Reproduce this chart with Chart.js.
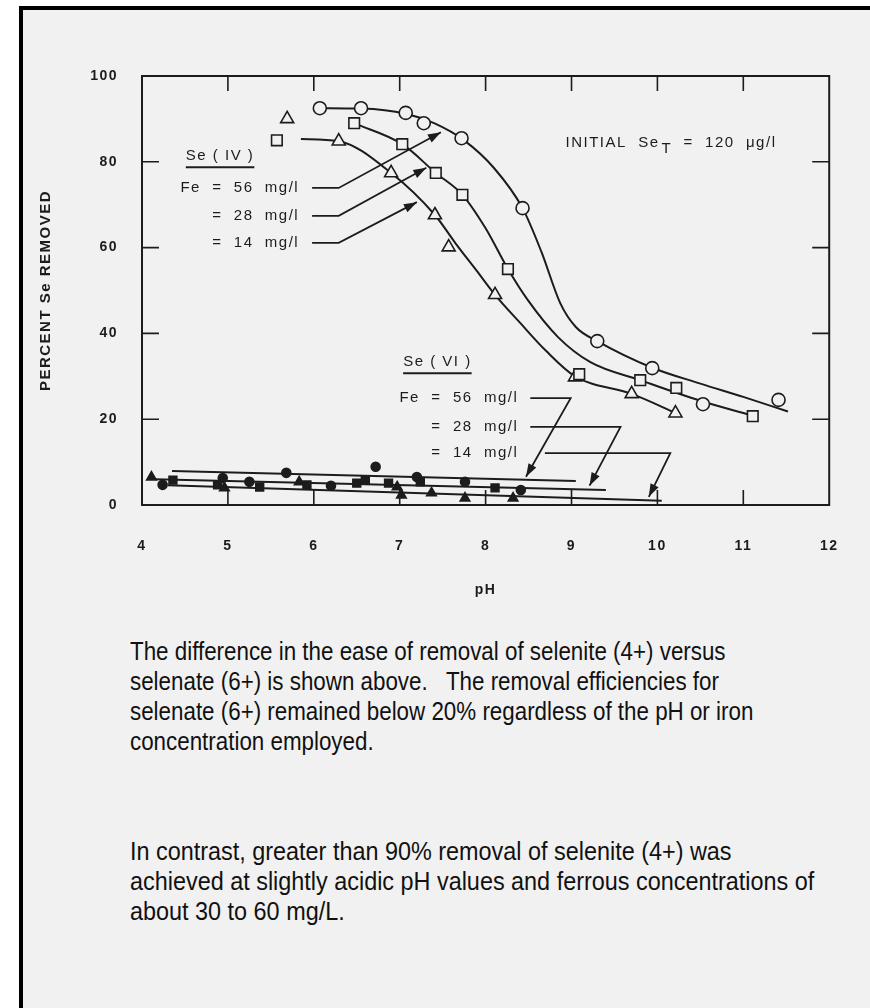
<!DOCTYPE html>
<html><head><meta charset="utf-8">
<script src="https://cdn.jsdelivr.net/npm/chart.js@4.4.1/dist/chart.umd.min.js"></script>
<style>
html,body{margin:0;padding:0;background:#fff;width:870px;height:1008px;overflow:hidden;}
#frame{position:absolute;left:19px;top:6px;width:900px;height:1100px;border-left:4px solid #000;border-top:4px solid #000;background:#f1f1f1;}
#c{position:absolute;left:0;top:0;}
.cap{position:absolute;left:130px;font-family:"Liberation Sans",Arial,sans-serif;font-size:26px;line-height:30px;color:#111;white-space:pre;transform:scaleX(0.86);transform-origin:0 0;}
.cap.p2{transform:scaleX(0.9);}
</style></head><body>
<div id="frame"></div>
<canvas id="c" width="870" height="620"></canvas>
<div class="cap" style="top:636px">The difference in the ease of removal of selenite (4+) versus
selenate (6+) is shown above.   The removal efficiencies for
selenate (6+) remained below 20% regardless of the pH or iron
concentration employed.</div>
<div class="cap p2" style="top:836px">In contrast, greater than 90% removal of selenite (4+) was
achieved at slightly acidic pH values and ferrous concentrations of
about 30 to 60 mg/L.</div>
<script>
// ---- tick labels ----
const pHTicks  = [4, 5, 6, 7, 8, 9, 10, 11, 12];
const pctTicks = [0, 20, 40, 60, 80, 100];

// ---- Se(IV) measured points ----
const iv56_pH  = [6.07, 6.55, 7.07, 7.28, 7.72, 8.43, 9.30, 9.94, 10.53, 11.41];
const iv56_pct = [92.5, 92.5, 91.4, 89.0, 85.5, 69.2, 38.2, 31.9, 23.5, 24.5];
const iv28_pH  = [5.57, 6.47, 7.03, 7.42, 7.73, 8.26, 9.09, 9.80, 10.22, 11.11];
const iv28_pct = [85.0, 89.0, 84.1, 77.4, 72.3, 55.0, 30.5, 29.1, 27.3, 20.7];
const iv14_pH  = [5.69, 6.29, 6.90, 7.41, 7.57, 8.11, 9.04, 9.70, 10.21];
const iv14_pct = [90.0, 84.8, 77.4, 67.6, 60.1, 49.0, 29.8, 25.9, 21.4];

// ---- Se(IV) fitted curves ----
const iv56fit_pH  = [6.07, 6.55, 7.07, 7.40, 7.75, 8.10, 8.43, 8.65, 8.87, 9.05, 9.30, 9.94, 10.50, 11.00, 11.52];
const iv56fit_pct = [92.5, 92.4, 91.2, 89.0, 85.0, 78.5, 69.2, 59.0, 47.0, 41.5, 38.2, 32.0, 28.3, 25.2, 21.8];
const iv28fit_pH  = [6.47, 7.03, 7.42, 7.73, 8.00, 8.26, 8.49, 8.84, 9.22, 9.80, 10.50, 11.15];
const iv28fit_pct = [89.0, 84.1, 77.4, 72.3, 64.5, 55.0, 47.8, 39.2, 33.3, 29.1, 24.3, 20.6];
const iv14fit_pH  = [5.85, 6.29, 6.90, 7.41, 7.65, 7.90, 8.11, 8.40, 8.70, 9.04, 9.70, 10.22];
const iv14fit_pct = [85.3, 84.8, 77.4, 67.6, 61.0, 54.5, 49.0, 42.5, 36.0, 30.0, 25.9, 21.4];

// ---- Se(VI) measured points ----
const vi56_pH  = [4.24, 4.94, 5.25, 5.68, 6.20, 6.72, 7.20, 7.76, 8.41];
const vi56_pct = [4.7, 6.3, 5.4, 7.5, 4.5, 8.9, 6.5, 5.4, 3.5];
const vi28_pH  = [4.36, 4.88, 5.37, 5.92, 6.50, 6.60, 6.87, 7.24, 8.11];
const vi28_pct = [5.8, 4.7, 4.2, 4.7, 5.1, 5.8, 5.1, 5.4, 4.0];
const vi14_pH  = [4.11, 4.96, 5.83, 6.97, 7.02, 7.37, 7.76, 8.32];
const vi14_pct = [6.5, 4.0, 5.4, 4.2, 2.3, 2.8, 1.6, 1.6];

// ---- Se(VI) fitted lines ----
const vi56fit_pH  = [4.35, 9.05];
const vi56fit_pct = [7.9, 5.6];
const vi28fit_pH  = [4.15, 9.40];
const vi28fit_pct = [6.0, 3.5];
const vi14fit_pH  = [4.30, 10.05];
const vi14fit_pct = [4.6, 1.0];

const ink = '#1c1c1c';
const paper = '#f1f1f1';
const FONT = '"Liberation Sans", Arial, sans-serif';
Chart.defaults.font.family = FONT;

function pts(xs, ys) { return xs.map((x, i) => ({x: x, y: ys[i]})); }
function markers(xs, ys, style, r, filled) {
  return {data: pts(xs, ys), showLine: false, pointStyle: style, pointRadius: r,
    pointBorderColor: ink, pointBackgroundColor: filled ? ink : paper,
    pointBorderWidth: 1.6, order: 0};
}
function curve(xs, ys, smooth) {
  return {data: pts(xs, ys), showLine: true, pointRadius: 0, borderColor: ink,
    borderWidth: 2, fill: false, cubicInterpolationMode: smooth ? 'monotone' : 'default',
    tension: 0, order: 1};
}

// annotation texts / leaders, in data units (pH, percent)
const annoTexts = [
  {t: 'Se ( IV )', x: 4.51, y: 81.3, align: 'left', underline: true},
  {t: 'Fe  =  56  mg/l', x: 5.83, y: 73.9, align: 'right'},
  {t: '=  28  mg/l', x: 5.83, y: 67.4, align: 'right'},
  {t: '=  14  mg/l', x: 5.83, y: 61.1, align: 'right'},
  {t: 'Se ( VI )', x: 7.04, y: 33.3, align: 'left', underline: true},
  {t: 'Fe  =  56  mg/l', x: 8.38, y: 24.9, align: 'right'},
  {t: '=  28  mg/l', x: 8.38, y: 18.2, align: 'right'},
  {t: '=  14  mg/l', x: 8.38, y: 12.1, align: 'right'}
];
const leaders = [
  [[5.98, 73.9], [6.29, 73.9], [7.48, 86.9]],
  [[5.98, 67.4], [6.29, 67.4], [7.31, 78.6]],
  [[5.98, 61.1], [6.29, 61.1], [7.20, 70.6]],
  [[8.52, 24.9], [8.99, 24.9], [8.47, 6.6]],
  [[8.52, 18.2], [9.57, 18.2], [9.21, 4.5]],
  [[8.69, 12.1], [10.15, 12.1], [9.90, 1.9]]
];
const initialNote = {x: 8.93, y: 84.4, a: 'INITIAL  Se', sub: 'T', b: '  =  120  \u03bcg/l'};

const deco = {
  id: 'deco',
  beforeDraw(chart) { chart.ctx.letterSpacing = '1.5px'; },
  beforeDatasetsDraw(chart) {
    const {ctx, chartArea: a, scales: {x, y}} = chart;
    ctx.save();
    ctx.strokeStyle = ink; ctx.lineWidth = 2;
    ctx.strokeRect(a.left, a.top, a.right - a.left, a.bottom - a.top);
    ctx.lineWidth = 1.6;
    ctx.beginPath();
    pHTicks.slice(1, -1).forEach(v => {
      const px = x.getPixelForValue(v);
      ctx.moveTo(px, a.bottom); ctx.lineTo(px, a.bottom - 15);
      ctx.moveTo(px, a.top); ctx.lineTo(px, a.top + 15);
    });
    pctTicks.slice(1, -1).forEach(v => {
      const py = y.getPixelForValue(v);
      ctx.moveTo(a.left, py); ctx.lineTo(a.left + 17, py);
      ctx.moveTo(a.right, py); ctx.lineTo(a.right - 17, py);
    });
    ctx.stroke();
    ctx.restore();
  },
  afterDatasetsDraw(chart) {
    const {ctx, scales: {x, y}} = chart;
    ctx.save();
    ctx.letterSpacing = '1.5px';
    ctx.fillStyle = ink; ctx.strokeStyle = ink;
    ctx.font = '15px ' + FONT;
    ctx.textBaseline = 'middle';
    annoTexts.forEach(o => {
      const px = x.getPixelForValue(o.x), py = y.getPixelForValue(o.y);
      ctx.textAlign = o.align;
      ctx.fillText(o.t, px, py);
      if (o.underline) {
        const w = ctx.measureText(o.t).width;
        ctx.lineWidth = 2;
        ctx.beginPath(); ctx.moveTo(px, py + 11); ctx.lineTo(px + w, py + 11); ctx.stroke();
      }
    });
    // initial note
    {
      const px = x.getPixelForValue(initialNote.x), py = y.getPixelForValue(initialNote.y);
      ctx.textAlign = 'left';
      ctx.fillText(initialNote.a, px, py);
      let w = ctx.measureText(initialNote.a).width + 2;
      ctx.fillText(initialNote.sub, px + w, py + 6);
      w += ctx.measureText(initialNote.sub).width;
      ctx.fillText(initialNote.b, px + w, py);
    }
    // leaders with arrowheads
    ctx.lineWidth = 1.8;
    leaders.forEach(path => {
      const p = path.map(q => [x.getPixelForValue(q[0]), y.getPixelForValue(q[1])]);
      ctx.beginPath();
      p.forEach((q, i) => i ? ctx.lineTo(q[0], q[1]) : ctx.moveTo(q[0], q[1]));
      ctx.stroke();
      const [x1, y1] = p[p.length - 2], [x2, y2] = p[p.length - 1];
      const ang = Math.atan2(y2 - y1, x2 - x1);
      const L = 13, W = 4.5;
      ctx.beginPath();
      ctx.moveTo(x2, y2);
      ctx.lineTo(x2 - L * Math.cos(ang) + W * Math.sin(ang), y2 - L * Math.sin(ang) - W * Math.cos(ang));
      ctx.lineTo(x2 - L * Math.cos(ang) - W * Math.sin(ang), y2 - L * Math.sin(ang) + W * Math.cos(ang));
      ctx.closePath(); ctx.fill();
    });
    ctx.restore();
  }
};

new Chart(document.getElementById('c'), {
  type: 'line',
  data: {datasets: [
    markers(iv56_pH, iv56_pct, 'circle', 6.5, false),
    markers(iv28_pH, iv28_pct, 'rect', 7.5, false),
    markers(iv14_pH, iv14_pct, 'triangle', 7.5, false),
    markers(vi56_pH, vi56_pct, 'circle', 4.5, true),
    markers(vi28_pH, vi28_pct, 'rect', 5.5, true),
    markers(vi14_pH, vi14_pct, 'triangle', 5.5, true),
    curve(iv56fit_pH, iv56fit_pct, true),
    curve(iv28fit_pH, iv28fit_pct, true),
    curve(iv14fit_pH, iv14fit_pct, true),
    curve(vi56fit_pH, vi56fit_pct, false),
    curve(vi28fit_pH, vi28fit_pct, false),
    curve(vi14fit_pH, vi14fit_pct, false)
  ]},
  options: {
    responsive: false, animation: false, events: [],
    layout: {padding: {left: 0, right: 37, top: 76, bottom: 0}},
    plugins: {legend: {display: false}, tooltip: {enabled: false}},
    scales: {
      x: {
        type: 'linear', min: 4, max: 12,
        afterBuildTicks(s) { s.ticks = pHTicks.map(v => ({value: v})); },
        afterFit(s) { s.height = 115; },
        grid: {display: false, drawTicks: false}, border: {display: false},
        ticks: {padding: 33, color: ink, font: {size: 14, weight: 'bold'}},
        title: {display: true, text: 'pH', color: ink, font: {size: 14, weight: 'bold'}, padding: {top: 0, bottom: 21}}
      },
      y: {
        type: 'linear', min: 0, max: 100,
        afterBuildTicks(s) { s.ticks = pctTicks.map(v => ({value: v})); },
        afterFit(s) { s.width = 142; },
        grid: {display: false, drawTicks: false}, border: {display: false},
        ticks: {padding: 24, color: ink, font: {size: 14, weight: 'bold'}},
        title: {display: true, text: 'PERCENT Se REMOVED', color: ink, font: {size: 15, weight: 'bold'}, padding: {top: 37, bottom: 0}}
      }
    }
  },
  plugins: [deco]
});
</script>
</body></html>
